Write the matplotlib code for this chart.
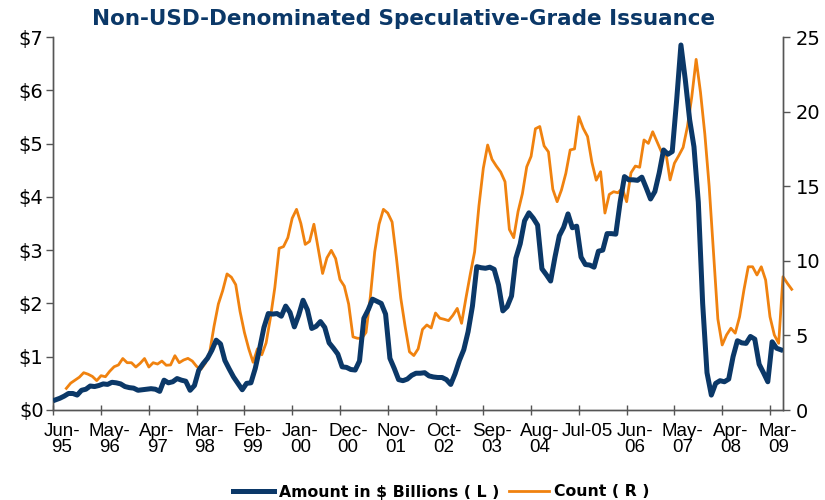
import matplotlib
matplotlib.use("Agg")
import matplotlib.pyplot as plt
import numpy as np

# monthly amounts ($ billions), Jun-95 .. May-09
amount = [
    0.19, 0.22, 0.26, 0.31, 0.31, 0.28, 0.37, 0.39, 0.45, 0.44,
    0.46, 0.49, 0.48, 0.52, 0.51, 0.49, 0.44, 0.42, 0.41, 0.37,
    0.38, 0.39, 0.40, 0.39, 0.35, 0.56, 0.51, 0.53, 0.59, 0.56,
    0.54, 0.37, 0.46, 0.75, 0.87, 0.97, 1.12, 1.31, 1.24, 0.93,
    0.77, 0.62, 0.50, 0.38, 0.50, 0.51, 0.78, 1.15, 1.55, 1.81,
    1.80, 1.81, 1.76, 1.95, 1.83, 1.56, 1.78, 2.06, 1.88, 1.53,
    1.57, 1.66, 1.55, 1.26, 1.16, 1.05, 0.81, 0.80, 0.76, 0.75,
    0.92, 1.72, 1.88, 2.08, 2.04, 2.00, 1.80, 0.97, 0.78, 0.57,
    0.55, 0.58, 0.65, 0.69, 0.69, 0.70, 0.64, 0.62, 0.61, 0.61,
    0.57, 0.48, 0.68, 0.93, 1.13, 1.47, 1.95, 2.69, 2.67, 2.66,
    2.68, 2.64, 2.35, 1.86, 1.94, 2.14, 2.85, 3.12, 3.55, 3.70,
    3.60, 3.47, 2.65, 2.54, 2.42, 2.87, 3.27, 3.43, 3.68, 3.42,
    3.45, 2.87, 2.73, 2.72, 2.68, 2.98, 3.00, 3.31, 3.31, 3.30,
    3.90, 4.38, 4.32, 4.32, 4.31, 4.37, 4.17, 3.96, 4.10, 4.45,
    4.88, 4.80, 4.85, 5.80, 6.85, 6.20, 5.45, 4.94, 3.90, 2.00,
    0.70, 0.28, 0.50, 0.55, 0.53, 0.58, 1.00, 1.30, 1.26, 1.25,
    1.38, 1.33, 0.86, 0.70, 0.53, 1.28, 1.16, 1.13,
]

# monthly deal count, plotted three months later on the category axis
count = [
    1.45, 1.80, 2.00, 2.20, 2.50, 2.40, 2.25, 1.97, 2.30, 2.23,
    2.60, 2.90, 3.02, 3.45, 3.17, 3.17, 2.88, 3.13, 3.45, 2.88,
    3.17, 3.08, 3.28, 3.00, 3.02, 3.64, 3.17, 3.35, 3.46, 3.28,
    2.92, 2.73, 3.13, 3.85, 5.60, 7.10, 8.00, 9.12, 8.90, 8.40,
    6.60, 5.20, 4.10, 3.20, 4.10, 3.70, 4.50, 6.20, 8.20, 10.84,
    10.95, 11.55, 12.85, 13.45, 12.50, 11.10, 11.30, 12.45, 10.80, 9.15,
    10.20, 10.70, 10.15, 8.75, 8.30, 7.10, 4.90, 4.81, 4.80, 5.20,
    7.60, 10.60, 12.45, 13.45, 13.20, 12.60, 10.20, 7.50, 5.60, 3.90,
    3.65, 4.10, 5.40, 5.70, 5.50, 6.50, 6.15, 6.08, 5.99, 6.35,
    6.81, 5.81, 7.50, 9.10, 10.60, 13.70, 16.20, 17.76, 16.80, 16.35,
    15.95, 15.30, 12.10, 11.55, 13.30, 14.50, 16.30, 17.00, 18.85, 19.00,
    17.70, 17.30, 14.80, 13.96, 14.75, 15.86, 17.43, 17.50, 19.66, 18.88,
    18.33, 16.60, 15.40, 15.97, 13.20, 14.45, 14.63, 14.56, 14.86, 13.96,
    15.90, 16.35, 16.27, 18.10, 17.87, 18.65, 17.98, 17.31, 17.31, 15.42,
    16.54, 17.05, 17.60, 19.00, 21.00, 23.50, 21.30, 18.50, 15.00, 10.60,
    6.10, 4.36, 5.03, 5.48, 5.15, 6.25, 8.04, 9.60, 9.60, 9.05,
    9.60, 8.71, 6.25, 5.03, 4.47, 8.93, 8.49, 8.09,
]

tick_labels = ["Jun-\n95", "May-\n96", "Apr-\n97", "Mar-\n98", "Feb-\n99",
               "Jan-\n00", "Dec-\n00", "Nov-\n01", "Oct-\n02", "Sep-\n03",
               "Aug-\n04", "Jul-05", "Jun-\n06", "May-\n07", "Apr-\n08",
               "Mar-\n09"]

navy = "#0B3868"
orange = "#F0820F"
axis_grey = "#555555"

fig = plt.figure(figsize=(8.25, 5), dpi=100)
ax = fig.add_axes([0.0646, 0.18, 0.8845, 0.746])
ax2 = ax.twinx()

x_amt = np.arange(len(amount)) + 0.5
x_cnt = np.arange(len(count)) + 3.0

ax.plot(x_amt, amount, color=navy, lw=3.6, solid_joinstyle="round", zorder=3)
ax2.plot(x_cnt, count, color=orange, lw=2.0, clip_on=False, zorder=2)
ax.set_zorder(ax2.get_zorder() + 1)
ax.patch.set_visible(False)

ax.set_xlim(0, 168)
ax.set_ylim(0, 7)
ax2.set_ylim(0, 25)

ax.set_yticks(range(0, 8))
ax.set_yticklabels([f"${v}" for v in range(0, 8)])
ax2.set_yticks(range(0, 26, 5))

ticks = np.arange(0, 166, 11)
ax.set_xticks(ticks)
ax.set_xticklabels([])
ax.set_xticks(ticks + 1.9, minor=True)
ax.set_xticklabels(tick_labels, minor=True, fontsize=13.5,
                   linespacing=0.95, family="Liberation Sans")
ax.tick_params(axis="x", which="minor", length=0, pad=9)

for a in (ax, ax2):
    a.spines["top"].set_visible(False)
    for s in ("left", "right", "bottom"):
        a.spines[s].set_color(axis_grey)
        a.spines[s].set_linewidth(1.0)
    a.tick_params(axis="both", which="major", length=5, width=1,
                  color=axis_grey, labelsize=14)
ax.tick_params(axis="x", which="major", direction="inout", length=7)
ax.tick_params(axis="y", pad=2)
ax2.tick_params(axis="y", pad=4)

fig.text(0.489, 0.962, "Non-USD-Denominated Speculative-Grade Issuance",
         ha="center", va="center", fontsize=15.5, fontweight="bold",
         color=navy)

h1, = ax.plot([], [], color=navy, lw=3.6)
h2, = ax.plot([], [], color=orange, lw=2.0)
fig.legend([h1, h2], ["Amount in $ Billions ( L )", "Count ( R )"],
           loc="center", bbox_to_anchor=(0.535, 0.016), ncol=2,
           frameon=False, handlelength=2.6, handletextpad=0.3,
           columnspacing=0.6, prop={"weight": "bold", "size": 11.3})

fig.savefig("out.png", dpi=100)
